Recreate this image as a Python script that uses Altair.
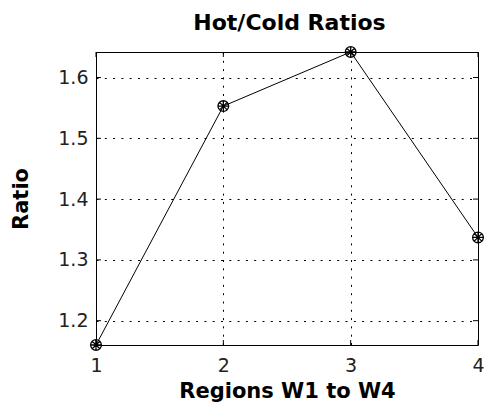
import altair as alt
import pandas as pd

regions = [1, 2, 3, 4]
ratios = [1.16, 1.553, 1.642, 1.337]
y_ticks = [1.2, 1.3, 1.4, 1.5, 1.6]
x_ticks = [1, 2, 3, 4]
title_text = ["Hot/Cold Ratios"]

W, H = 382, 293
Y_DOMAIN = [1.16, 1.642]
X_DOMAIN = [1, 4]

df = pd.DataFrame({"region": regions, "ratio": ratios})
ydf = pd.DataFrame({"ratio": y_ticks})
xdf = pd.DataFrame({"region": x_ticks})
tdf = pd.DataFrame({"t": title_text})

xs = alt.Scale(domain=X_DOMAIN, nice=False, zero=False)
ys = alt.Scale(domain=Y_DOMAIN, nice=False, zero=False)

x_enc = alt.X("region:Q", scale=xs,
              axis=alt.Axis(values=x_ticks, format="d", title="Regions W1 to W4"))
y_enc = alt.Y("ratio:Q", scale=ys,
              axis=alt.Axis(values=y_ticks, format=".1f", title="Ratio"))

line = alt.Chart(df).mark_line(color="black", strokeWidth=1).encode(x=x_enc, y=y_enc)

marker_path = ("M1,0A1,1,0,1,1,-1,0A1,1,0,1,1,1,0"
               "M-1,0L1,0M0,-1L0,1M-0.7,-0.7L0.7,0.7M-0.7,0.7L0.7,-0.7")
points = alt.Chart(df).mark_point(
    shape=marker_path, size=115, filled=False, color="black",
    strokeWidth=1.3, opacity=1
).encode(x=alt.X("region:Q", scale=xs), y=alt.Y("ratio:Q", scale=ys))

tl = alt.Chart(ydf).mark_rule(color="black", strokeWidth=1).encode(
    x=alt.value(0), x2=alt.value(5), y=alt.Y("ratio:Q", scale=ys))
tr = alt.Chart(ydf).mark_rule(color="black", strokeWidth=1).encode(
    x=alt.value(W - 5), x2=alt.value(W), y=alt.Y("ratio:Q", scale=ys))
tb = alt.Chart(xdf).mark_rule(color="black", strokeWidth=1).encode(
    y=alt.value(H - 5), y2=alt.value(H), x=alt.X("region:Q", scale=xs))
tt = alt.Chart(xdf).mark_rule(color="black", strokeWidth=1).encode(
    y=alt.value(0), y2=alt.value(5), x=alt.X("region:Q", scale=xs))

title = alt.Chart(tdf).mark_text(
    font="DejaVu Sans", fontSize=22, fontWeight="bold", color="black",
    align="center", baseline="alphabetic"
).encode(x=alt.value(W / 2 + 2.5), y=alt.value(-22), text="t:N")

chart = alt.layer(tl, tr, tb, tt, line, points, title).properties(
    width=W, height=H,
    autosize="none",
    padding={"left": 88, "top": 44, "right": 6, "bottom": 58},
).configure_view(
    stroke="black", strokeWidth=1
).configure_axis(
    grid=True, gridColor="black", gridDash=[2, 6.3], gridWidth=1, gridOpacity=1,
    domain=False, ticks=False,
    labelFont="DejaVu Sans", labelFontSize=19, labelColor="#222",
    titleFont="DejaVu Sans", titleFontSize=21, titleFontWeight="bold",
    titleColor="black",
).configure_axisX(
    labelPadding=11, labelBaseline="top", titleBaseline="alphabetic", titleY=52,
    labelFlush=False,
).configure_axisY(
    labelPadding=8, titleX=-69, titleBaseline="alphabetic", titleAngle=-90,
)

chart.save("out.html", embed_options={"renderer": "svg", "actions": False})
